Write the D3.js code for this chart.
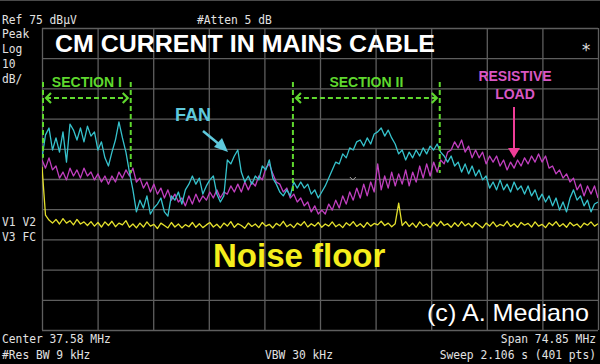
<!DOCTYPE html>
<html>
<head>
<meta charset="utf-8">
<script src="https://cdn.jsdelivr.net/npm/d3@7"></script>
<style>
  html, body { margin: 0; padding: 0; background: #000; }
  svg { display: block; }
</style>
</head>
<body>
<svg id="chart" width="600" height="364"></svg>
<script>
// Analyzer settings
const REF_LEVEL = 75;
const DB_PER_DIV = 10;
const START_MHZ = 0.155;
const STOP_MHZ = 75.005;

// Traces in dBuV, equally spaced over the sweep
const fanTrace = [
  32.0, 39.6, 41.9, 34.6, 38.6, 33.9, 40.6, 30.6, 43.2, 41.2,
  37.9, 41.9, 37.3, 42.5, 39.2, 40.6, 34.6, 37.3, 32.0, 29.3,
  33.9, 37.9, 43.9, 38.6, 33.9, 27.3, 21.4, 14.1, 18.0, 15.4,
  19.4, 13.4, 15.4, 16.7, 18.7, 14.1, 12.7, 19.4, 18.0, 20.7,
  16.7, 21.4, 23.3, 26.0, 23.3, 25.3, 20.0, 22.7, 24.7, 26.0,
  20.0, 17.4, 19.4, 31.3, 30.0, 32.6, 34.6, 27.3, 24.0, 26.0,
  23.3, 26.0, 24.7, 29.3, 28.0, 31.3, 25.3, 23.3, 20.7, 19.4,
  21.4, 19.4, 24.0, 22.0, 24.0, 22.0, 23.3, 20.0, 21.4, 18.7,
  20.7, 22.7, 25.3, 28.0, 30.6, 30.0, 33.3, 32.0, 35.3, 34.6,
  37.3, 37.9, 35.9, 38.6, 36.6, 39.9, 40.6, 41.9, 39.2, 41.2,
  38.6, 36.6, 33.3, 34.6, 31.3, 33.9, 32.0, 34.6, 32.6, 35.3,
  33.3, 35.9, 34.6, 36.6, 33.9, 32.6, 30.6, 32.6, 29.3, 30.6,
  27.3, 30.0, 26.7, 29.3, 26.0, 28.0, 24.7, 26.0, 22.0, 24.0,
  21.4, 24.7, 21.4, 23.3, 20.7, 24.0, 21.4, 22.7, 20.0, 22.7,
  19.4, 21.4, 18.0, 20.0, 17.4, 19.4, 16.1, 18.7, 14.7, 17.4,
  14.1, 18.7, 21.4, 18.0, 19.4, 16.1, 18.0, 14.1, 16.7, 17.4
];

const loadTrace = [
  31.3, 28.6, 32.0, 28.0, 29.3, 25.3, 27.3, 24.7, 28.6, 26.0,
  28.0, 25.3, 28.6, 26.0, 27.3, 24.7, 26.7, 24.0, 26.0, 23.3,
  26.0, 24.0, 27.3, 25.3, 28.0, 26.0, 28.6, 24.0, 25.3, 22.0,
  24.0, 20.7, 23.3, 20.0, 22.0, 18.7, 21.4, 18.0, 20.0, 17.4,
  18.7, 16.1, 19.4, 16.7, 20.0, 17.4, 19.4, 18.0, 20.7, 18.7,
  21.4, 18.7, 20.7, 20.0, 22.7, 20.7, 23.3, 20.7, 24.0, 21.4,
  24.0, 22.7, 26.0, 24.7, 28.6, 30.0, 26.7, 24.0, 23.3, 20.7,
  22.0, 18.7, 20.0, 17.4, 18.7, 16.1, 17.4, 14.1, 16.1, 13.4,
  14.7, 13.4, 16.7, 14.7, 18.0, 15.4, 19.4, 16.7, 20.7, 18.0,
  22.0, 18.7, 23.3, 19.4, 24.0, 20.7, 30.0, 21.4, 26.0, 22.0,
  27.3, 22.7, 26.7, 23.3, 28.0, 22.7, 27.3, 24.0, 29.3, 25.3,
  30.0, 26.0, 30.6, 27.3, 31.3, 30.0, 33.9, 34.6, 37.3, 35.3,
  37.9, 33.9, 35.9, 32.0, 34.6, 32.0, 33.9, 30.0, 32.6, 30.6,
  32.6, 29.3, 31.3, 28.0, 30.6, 28.6, 31.3, 29.3, 32.0, 30.0,
  32.6, 30.6, 33.3, 30.6, 32.6, 28.6, 29.3, 26.7, 28.0, 25.3,
  26.7, 24.0, 25.3, 21.4, 23.3, 19.4, 22.7, 20.0, 22.7, 18.7
];

const noiseTrace = [
  29.0, 13.0, 11.4, 10.4, 11.6, 10.1, 11.9, 10.4, 11.2, 9.8,
  11.6, 10.1, 10.8, 9.6, 10.9, 9.4, 10.6, 9.1, 10.8, 9.6,
  11.0, 9.2, 10.4, 9.8, 11.2, 9.0, 10.1, 8.8, 10.4, 9.1,
  10.8, 9.4, 10.0, 8.6, 10.4, 9.6, 8.8, 10.6, 9.1, 10.1,
  8.8, 9.9, 9.2, 10.6, 9.0, 10.2, 8.9, 9.8, 10.6, 9.1,
  10.0, 8.8, 10.4, 9.4, 10.9, 9.0, 10.2, 9.6, 8.7, 10.4,
  9.3, 10.1, 8.9, 10.6, 9.4, 10.0, 8.8, 10.3, 9.5, 11.0,
  9.2, 10.0, 8.9, 10.4, 9.6, 10.9, 9.1, 10.2, 9.4, 10.6,
  9.0, 10.1, 9.4, 10.8, 9.2, 10.0, 8.9, 10.5, 9.6, 10.9,
  9.3, 10.2, 9.0, 10.6, 9.4, 10.3, 9.8, 11.0, 9.6, 10.4,
  9.2, 10.2, 17.0, 9.6, 10.9, 9.3, 10.4, 9.0, 10.8, 9.5,
  10.1, 8.9, 10.6, 9.4, 11.0, 9.6, 10.2, 9.0, 10.5, 9.3,
  10.9, 9.5, 10.3, 9.1, 10.6, 9.7, 8.8, 10.4, 9.4, 10.8,
  9.2, 10.0, 9.5, 11.0, 9.3, 10.2, 9.0, 10.6, 9.7, 10.3,
  9.1, 10.8, 9.4, 10.0, 8.9, 10.5, 9.6, 10.9, 9.3, 10.2,
  9.0, 10.6, 9.5, 10.1, 8.9, 10.4, 9.7, 10.8, 9.4, 10.2
];

// Marked frequency bands (MHz)
const sections = [
  { label: "SECTION I", f0: 0.155, f1: 12.1, low: [32.0, 27.0] },
  { label: "SECTION II", f0: 33.8, f1: 53.7, low: [21.0, 27.0] }
];

// Instrument annotation texts: text, x, baseline, anchor
const infoLabels = [
  ["Ref 75 dB\u00b5V", 2, 24, "start"],
  ["#Atten 5 dB", 197, 24, "start"],
  ["Peak", 2, 38, "start"],
  ["Log", 2, 53, "start"],
  ["10", 2, 68, "start"],
  ["dB/", 2, 83, "start"],
  ["V1 V2", 2, 226, "start"],
  ["V3 FC", 2, 241, "start"],
  ["Center 37.58 MHz", 2, 343, "start"],
  ["#Res BW 9 kHz", 2, 359, "start"],
  ["VBW 30 kHz", 265, 359, "start"],
  ["Span 74.85 MHz", 596, 343, "end"],
  ["Sweep 2.106 s (401 pts)", 596, 359, "end"]
];

const plot = { left: 42, right: 598, top: 28, bottom: 330 };
const svg = d3.select("#chart");

const x = d3.scaleLinear().domain([START_MHZ, STOP_MHZ]).range([plot.left, plot.right]);
const y = d3.scaleLinear()
  .domain([REF_LEVEL - 10 * DB_PER_DIV, REF_LEVEL])
  .range([plot.bottom, plot.top]);

svg.append("rect").attr("width", 600).attr("height", 364).attr("fill", "#000");
svg.append("line").attr("x1", 0).attr("x2", 600).attr("y1", 0.5).attr("y2", 0.5)
  .attr("stroke", "#4a4a4a");

// Graticule
const xTicks = d3.range(11).map((i) => START_MHZ + (i * (STOP_MHZ - START_MHZ)) / 10);
const yTicks = d3.range(11).map((i) => REF_LEVEL - i * DB_PER_DIV);

const styleGrid = (g) => {
  g.select(".domain").remove();
  g.selectAll("line").attr("stroke", "#5e5e5e").attr("stroke-width", 1.3);
};

svg.append("g")
  .attr("transform", `translate(0,${plot.bottom})`)
  .call(d3.axisBottom(x).tickValues(xTicks).tickSize(-(plot.bottom - plot.top)).tickFormat(""))
  .call(styleGrid);

svg.append("g")
  .attr("transform", `translate(${plot.left},0)`)
  .call(d3.axisLeft(y).tickValues(yTicks).tickSize(-(plot.right - plot.left)).tickFormat(""))
  .call(styleGrid);

// Traces
svg.append("clipPath").attr("id", "plot-clip")
  .append("rect")
  .attr("x", plot.left).attr("y", plot.top)
  .attr("width", plot.right - plot.left).attr("height", plot.bottom - plot.top);

const traceLine = (n) => d3.line()
  .x((d, i) => x(START_MHZ + (i * (STOP_MHZ - START_MHZ)) / (n - 1)))
  .y((d) => y(d));

const traces = [
  { data: noiseTrace, color: "#e4e02c" },
  { data: loadTrace, color: "#c13fbf" },
  { data: fanTrace, color: "#36c2cc" }
];

svg.append("g").attr("clip-path", "url(#plot-clip)")
  .selectAll("path")
  .data(traces)
  .join("path")
  .attr("d", (t) => traceLine(t.data.length)(t.data))
  .attr("fill", "none")
  .attr("stroke", (t) => t.color)
  .attr("stroke-width", 1.3)
  .attr("stroke-linejoin", "round");

// Small marker symbol on the display
const mk = { f: 42.0, level: 25.0 };
svg.append("path")
  .attr("d", `M${x(mk.f) - 3},${y(mk.level) - 2} L${x(mk.f)},${y(mk.level) + 1} L${x(mk.f) + 3},${y(mk.level) - 2}`)
  .attr("fill", "none").attr("stroke", "#aaa").attr("stroke-width", 1);

// Instrument texts (narrow, tall font: stretch a little vertically)
svg.append("g")
  .selectAll("text")
  .data(infoLabels)
  .join("text")
  .attr("transform", (d) => `translate(${d[1]},${d[2]}) scale(1,1.12)`)
  .attr("text-anchor", (d) => d[3])
  .attr("font-family", "DejaVu Sans Mono, monospace")
  .attr("font-size", 11.3)
  .attr("fill", "#e2e2e2")
  .text((d) => d[0]);

svg.append("text").attr("x", 586).attr("y", 56).attr("text-anchor", "middle")
  .attr("font-family", "DejaVu Sans Mono, monospace").attr("font-size", 17)
  .attr("fill", "#ddd").text("*");

// Section brackets
const green = "#5fd82e";
const sec = svg.append("g");
sections.forEach((s) => {
  const x0 = x(s.f0) + 1, x1 = x(s.f1);
  const top = 82, arrowY = 98;
  sec.append("line").attr("x1", x0).attr("x2", x0).attr("y1", top).attr("y2", y(s.low[0]));
  sec.append("line").attr("x1", x1).attr("x2", x1).attr("y1", top).attr("y2", y(s.low[1]));
  sec.append("line").attr("x1", x0 + 3).attr("x2", x1 - 3).attr("y1", arrowY).attr("y2", arrowY);
  sec.append("path").attr("d", `M${x0 + 8},${arrowY - 5} L${x0 + 3},${arrowY} L${x0 + 8},${arrowY + 5}`);
  sec.append("path").attr("d", `M${x1 - 8},${arrowY - 5} L${x1 - 3},${arrowY} L${x1 - 8},${arrowY + 5}`);
  sec.append("text")
    .attr("x", (x0 + x1) / 2).attr("y", 87)
    .attr("text-anchor", "middle")
    .attr("font-family", "Liberation Sans, Arial, sans-serif")
    .attr("font-weight", "bold").attr("font-size", 14)
    .attr("fill", green).attr("stroke", "none")
    .text(s.label);
});
sec.selectAll("line")
  .attr("stroke", green).attr("stroke-width", 2).attr("stroke-dasharray", "5,3");
sec.selectAll("path")
  .attr("fill", "none").attr("stroke", green).attr("stroke-width", 2.2);

// Title and callouts
const bold = "Liberation Sans, Arial, sans-serif";
svg.append("text").attr("x", 55).attr("y", 52)
  .attr("font-family", bold).attr("font-weight", "bold").attr("font-size", 23)
  .attr("textLength", 380).attr("lengthAdjust", "spacingAndGlyphs")
  .attr("fill", "#fff").text("CM CURRENT IN MAINS CABLE");

svg.append("text").attr("x", 193).attr("y", 121).attr("text-anchor", "middle")
  .attr("font-family", bold).attr("font-weight", "bold").attr("font-size", 18)
  .attr("fill", "#5fc9dc").text("FAN");

svg.append("line").attr("x1", 203).attr("y1", 131).attr("x2", 220).attr("y2", 145)
  .attr("stroke", "#5fc9dc").attr("stroke-width", 2.5);
svg.append("path").attr("d", "M228,152 L214,147 L222,138 Z").attr("fill", "#5fc9dc");

const pink = "#d957c4";
svg.append("text").attr("x", 515).attr("y", 81).attr("text-anchor", "middle")
  .attr("font-family", bold).attr("font-weight", "bold").attr("font-size", 14)
  .attr("fill", pink).text("RESISTIVE");
svg.append("text").attr("x", 515).attr("y", 99).attr("text-anchor", "middle")
  .attr("font-family", bold).attr("font-weight", "bold").attr("font-size", 14)
  .attr("fill", pink).text("LOAD");
svg.append("line").attr("x1", 514).attr("y1", 107).attr("x2", 514).attr("y2", 150)
  .attr("stroke", "#ee3d97").attr("stroke-width", 2);
svg.append("path").attr("d", "M508,148 L520,148 L514,158 Z").attr("fill", "#ee3d97");

svg.append("text").attr("x", 213).attr("y", 267)
  .attr("font-family", bold).attr("font-weight", "bold").attr("font-size", 33)
  .attr("fill", "#f5ee1c").text("Noise floor");

svg.append("text").attr("x", 427).attr("y", 321)
  .attr("font-family", bold).attr("font-size", 24)
  .attr("textLength", 162).attr("lengthAdjust", "spacingAndGlyphs")
  .attr("fill", "#fff").text("(c) A. Mediano");
</script>
</body>
</html>
